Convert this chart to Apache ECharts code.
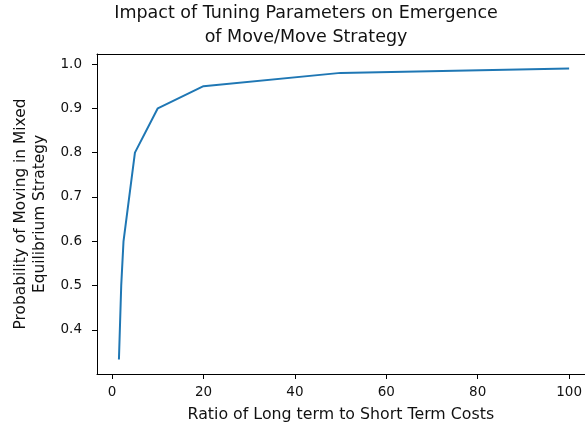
<!DOCTYPE html>
<html>
	<head>
		<meta charset="utf-8" />
		<title></title>
		<script type="text/javascript" src="https://cdn.jsdelivr.net/npm/echarts@6/dist/echarts.min.js"></script>
	</head>
	<body style="margin:0;background:#fff;">
		<div id="main" style="width: 585px;height: 431px;"></div>
		<script type="text/javascript">
    // cost ratio vs probability of moving
    var ratios = [1.5, 2, 2.5, 5, 10, 20, 50, 100];
    var probs = [0.3333, 0.5, 0.6, 0.8, 0.9, 0.95, 0.98, 0.99];
    var xTicks = [0, 20, 40, 60, 80, 100];
    var yTicks = [0.4, 0.5, 0.6, 0.7, 0.8, 0.9, 1.0];

    var points = ratios.map(function (r, i) { return [r, probs[i]]; });
    var font = 'DejaVu Sans';
    var xMin = -3.3, xMax = 103.4;

	var myChart = echarts.init(document.getElementById('main'));
    var option = {
      backgroundColor: '#fff',
      animation: false,
      title: {
        text: 'Impact of Tuning Parameters on Emergence\nof Move/Move Strategy',
        left: 306,
        top: 1,
        padding: 0,
        textAlign: 'center',
        textStyle: { fontFamily: font, fontSize: 17.5, fontWeight: 'normal', color: '#111', lineHeight: 24 }
      },
      grid: {
        left: 97,
        right: 0,
        top: 54,
        bottom: 57
      },
      xAxis: [
        {
          type: 'value',
          min: xMin,
          max: xMax,
          name: 'Ratio of Long term to Short Term Costs',
          nameLocation: 'middle',
          nameGap: 33,
          nameTextStyle: { fontFamily: font, fontSize: 15.8, color: '#111' },
          axisLine: { show: true, onZero: false, lineStyle: { color: '#000', width: 1 } },
          axisTick: { show: true, length: 5, customValues: xTicks, lineStyle: { color: '#000' } },
          axisLabel: { customValues: xTicks, margin: 11, fontFamily: font, fontSize: 13.5, color: '#111' },
          splitLine: { show: false }
        },
        {
          // top spine only
          type: 'value',
          position: 'top',
          min: xMin,
          max: xMax,
          axisLine: { show: true, onZero: false, lineStyle: { color: '#000', width: 1 } },
          axisTick: { show: false },
          axisLabel: { show: false },
          splitLine: { show: false }
        }
      ],
      yAxis: {
        type: 'value',
        min: 0.3005,
        max: 1.0226,
        name: 'Probability of Moving in Mixed\nEquilibrium Strategy',
        nameLocation: 'middle',
        nameRotate: 90,
        nameGap: 47,
        nameTextStyle: { fontFamily: font, fontSize: 15.4, color: '#111', lineHeight: 19 },
        axisLine: { show: true, onZero: false, lineStyle: { color: '#000', width: 1 } },
        axisTick: { show: true, length: 5, customValues: yTicks, lineStyle: { color: '#000' } },
        axisLabel: {
          customValues: yTicks, margin: 15, fontFamily: font, fontSize: 13.5, color: '#111',
          formatter: function (v) { return v.toFixed(1); }
        },
        splitLine: { show: false }
      },
      series: [
        {
          type: 'line',
          xAxisIndex: 0,
          data: points,
          showSymbol: false,
          symbol: 'none',
          lineStyle: { color: '#1f77b4', width: 2 },
          itemStyle: { color: '#1f77b4' }
        }
      ]
    };
    myChart.setOption(option);
	</script>
	</body>
</html>
